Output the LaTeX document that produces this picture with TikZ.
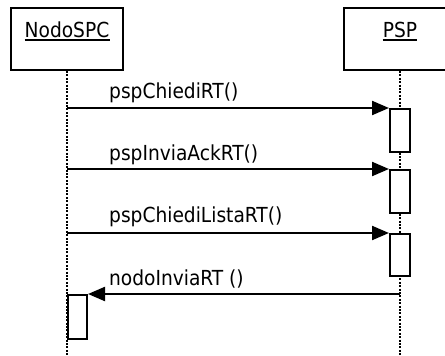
\documentclass[tikz,border=0pt]{standalone}
\usepackage{fontspec}
\setmainfont{DejaVu Sans Condensed}
\usetikzlibrary{arrows.meta}
\begin{document}
\begin{tikzpicture}[x=1pt,y=-1pt,
  every node/.style={font=\fontsize{20.7}{24}\selectfont},
  lifebox/.style={draw,line width=2pt,minimum width=112pt,minimum height=62pt,inner sep=0pt},
  lname/.style={inner sep=0pt,anchor=base},
  uline/.style={line width=2pt},
  life/.style={line width=2pt,dash pattern=on 2pt off 1.4pt},
  act/.style={draw,fill=white,line width=2pt,minimum width=20pt,inner sep=0pt,anchor=north west},
  msg/.style={line width=2.2pt,-{Triangle[length=17pt,width=14pt]}},
  lbl/.style={inner sep=0pt,anchor=base west}]
\useasboundingbox (0,0) rectangle (445,356);
\clip (0,0) rectangle (445,356);
% lifeline heads
\node[lifebox] (nodo) at (67,39) {};
\node[lname] (nodoT) at (67,37) {NodoSPC};
\draw[uline] ([yshift=-2.5pt]nodoT.base west) -- ([yshift=-2.5pt]nodoT.base east);
\node[lifebox] (psp) at (400,39) {};
\node[lname] (pspT) at (400,37) {PSP};
\draw[uline] ([yshift=-2.5pt]pspT.base west) -- ([yshift=-2.5pt]pspT.base east);
% lifelines
\coordinate (endL) at (67,356);
\coordinate (endR) at (400,356);
\draw[life] (nodo.south) -- (endL);
\draw[life] (psp.south) -- (endR);
% activations
\node[act,minimum height=43pt] (a1) at (389,108) {};
\node[act,minimum height=43pt] (a2) at (389,169) {};
\node[act,minimum height=42pt] (a3) at (389,233) {};
\node[act,minimum width=19pt,minimum height=44pt] (b1) at (67,294) {};
% message starts
\coordinate (s1) at (67,108);
\coordinate (s2) at (67,169);
\coordinate (s3) at (67,233);
\coordinate (r1) at (400,294);
\draw[msg] (s1) -- (a1.north west);
\draw[msg] (s2) -- (a2.north west);
\draw[msg] (s3) -- (a3.north west);
\draw[msg] (r1) -- (b1.north east);
% labels
\node[lbl] (l1) at (109,98.7) {pspChiediRT()};
\node[lbl] (l2) at (109,160) {pspInviaAckRT()};
\node[lbl] (l3) at (109,222) {pspChiediListaRT()};
\node[lbl] (l4) at (109,285) {nodoInviaRT ()};
\end{tikzpicture}
\end{document}
